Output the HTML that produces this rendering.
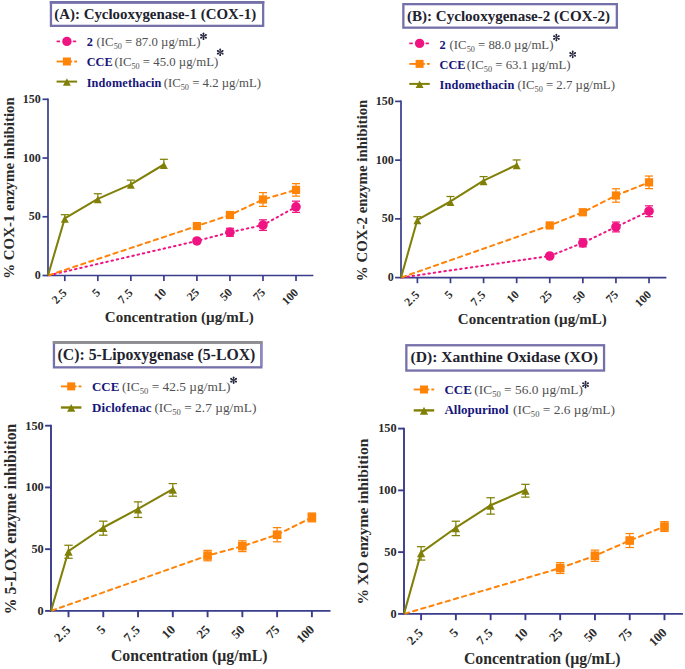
<!DOCTYPE html>
<html><head><meta charset="utf-8"><style>
html,body{margin:0;padding:0;background:#fff;}
body{width:685px;height:669px;overflow:hidden;}
svg{display:block;font-family:"Liberation Serif",serif;}
</style></head><body>
<svg width="685" height="669" viewBox="0 0 685 669">
<rect width="685" height="669" fill="#fff"/>
<rect x="50.95" y="2.15" width="212.2" height="23.7" fill="#fff" stroke="#7470aa" stroke-width="2.3"/>
<rect x="49.8" y="1" width="214.5" height="2.8" fill="#7470aa"/>
<text x="54.3" y="18.8" font-size="14.9" font-weight="bold" fill="#22222e">(A): Cyclooxygenase-1 (COX-1)</text>
<line x1="56.6" y1="41.4" x2="60.1" y2="41.4" stroke="#f01482" stroke-width="1.7"/>
<line x1="72.8" y1="41.4" x2="76.2" y2="41.4" stroke="#f01482" stroke-width="1.7"/>
<circle cx="66.9" cy="41.4" r="4.7" fill="#f01482"/>
<text x="86.7" y="46.3" font-size="12.3" font-weight="bold" fill="#15157a">2</text>
<text x="96.6" y="46.3" font-size="12.8" fill="#505050" xml:space="preserve">(IC<tspan font-size="8.2" dy="2.9">50</tspan><tspan dy="-2.9"> = 87.0 µg/mL)</tspan></text>
<g fill="#22223a"><path d="M203.72 36.3 L204.38 33.4 L202.62 33.4 L203.28 36.3Z"/><circle cx="203.5" cy="33.4" r="0.88"/><path d="M203.61 36.49 L206.45 35.61 L205.57 34.09 L203.39 36.11Z"/><circle cx="206.01" cy="34.85" r="0.88"/><path d="M203.39 36.49 L205.57 38.51 L206.45 36.99 L203.61 36.11Z"/><circle cx="206.01" cy="37.75" r="0.88"/><path d="M203.28 36.3 L202.62 39.2 L204.38 39.2 L203.72 36.3Z"/><circle cx="203.5" cy="39.2" r="0.88"/><path d="M203.39 36.11 L200.55 36.99 L201.43 38.51 L203.61 36.49Z"/><circle cx="200.99" cy="37.75" r="0.88"/><path d="M203.61 36.11 L201.43 34.09 L200.55 35.61 L203.39 36.49Z"/><circle cx="200.99" cy="34.85" r="0.88"/></g>
<line x1="56.6" y1="61.5" x2="72.2" y2="61.5" stroke="#ff8307" stroke-width="1.85"/>
<line x1="74.2" y1="61.5" x2="77.1" y2="61.5" stroke="#ff8307" stroke-width="1.85"/>
<rect x="62.9" y="57.5" width="8" height="8" fill="#ff8307"/>
<text x="86.7" y="66.4" font-size="12.3" font-weight="bold" fill="#15157a">CCE</text>
<text x="114.4" y="66.4" font-size="12.8" fill="#505050" xml:space="preserve">(IC<tspan font-size="8.2" dy="2.9">50</tspan><tspan dy="-2.9"> = 45.0 µg/mL)</tspan></text>
<g fill="#22223a"><path d="M220.42 52.25 L221.08 49.35 L219.32 49.35 L219.98 52.25Z"/><circle cx="220.2" cy="49.35" r="0.88"/><path d="M220.31 52.44 L223.15 51.56 L222.27 50.04 L220.09 52.06Z"/><circle cx="222.71" cy="50.8" r="0.88"/><path d="M220.09 52.44 L222.27 54.46 L223.15 52.94 L220.31 52.06Z"/><circle cx="222.71" cy="53.7" r="0.88"/><path d="M219.98 52.25 L219.32 55.15 L221.08 55.15 L220.42 52.25Z"/><circle cx="220.2" cy="55.15" r="0.88"/><path d="M220.09 52.06 L217.25 52.94 L218.13 54.46 L220.31 52.44Z"/><circle cx="217.69" cy="53.7" r="0.88"/><path d="M220.31 52.06 L218.13 50.04 L217.25 51.56 L220.09 52.44Z"/><circle cx="217.69" cy="50.8" r="0.88"/></g>
<line x1="56.6" y1="81.6" x2="77.1" y2="81.6" stroke="#808008" stroke-width="2.0"/>
<path d="M66.9 78.25 L70.85 85.75 L62.95 85.75Z" fill="#808008"/>
<text x="86.7" y="86.6" font-size="12.3" font-weight="bold" fill="#15157a" letter-spacing="0.15">Indomethacin</text>
<text x="163.7" y="86.6" font-size="12.8" fill="#505050" xml:space="preserve">(IC<tspan font-size="8.2" dy="2.9">50</tspan><tspan dy="-2.9"> = 4.2 µg/mL)</tspan></text>
<g stroke="#3a3c8c" stroke-width="1.7" fill="none">
<path d="M48 98.4 V275.5 H313.4"/>
<line x1="42.5" y1="275.5" x2="48" y2="275.5"/>
<line x1="42.5" y1="216.77" x2="48" y2="216.77"/>
<line x1="42.5" y1="158.03" x2="48" y2="158.03"/>
<line x1="42.5" y1="99.3" x2="48" y2="99.3"/>
<line x1="64.8" y1="275.5" x2="64.8" y2="281.1"/>
<line x1="97.83" y1="275.5" x2="97.83" y2="281.1"/>
<line x1="130.86" y1="275.5" x2="130.86" y2="281.1"/>
<line x1="163.89" y1="275.5" x2="163.89" y2="281.1"/>
<line x1="196.92" y1="275.5" x2="196.92" y2="281.1"/>
<line x1="229.95" y1="275.5" x2="229.95" y2="281.1"/>
<line x1="262.98" y1="275.5" x2="262.98" y2="281.1"/>
<line x1="296.01" y1="275.5" x2="296.01" y2="281.1"/>
</g>
<text transform="translate(40.7 279) scale(1 1.08)" font-size="12" font-weight="bold" fill="#2a2a2a" text-anchor="end">0</text>
<text transform="translate(40.7 220.27) scale(1 1.08)" font-size="12" font-weight="bold" fill="#2a2a2a" text-anchor="end">50</text>
<text transform="translate(40.7 161.53) scale(1 1.08)" font-size="12" font-weight="bold" fill="#2a2a2a" text-anchor="end">100</text>
<text transform="translate(40.7 102.8) scale(1 1.08)" font-size="12" font-weight="bold" fill="#2a2a2a" text-anchor="end">150</text>
<text transform="translate(67.8 293.2) rotate(-45)" font-size="11.8" font-weight="bold" fill="#2a2a2a" text-anchor="end" letter-spacing="0.45">2.5</text>
<text transform="translate(100.83 293.2) rotate(-45)" font-size="11.8" font-weight="bold" fill="#2a2a2a" text-anchor="end">5</text>
<text transform="translate(133.86 293.2) rotate(-45)" font-size="11.8" font-weight="bold" fill="#2a2a2a" text-anchor="end" letter-spacing="0.45">7.5</text>
<text transform="translate(166.89 293.2) rotate(-45)" font-size="11.8" font-weight="bold" fill="#2a2a2a" text-anchor="end">10</text>
<text transform="translate(199.92 293.2) rotate(-45)" font-size="11.8" font-weight="bold" fill="#2a2a2a" text-anchor="end">25</text>
<text transform="translate(232.95 293.2) rotate(-45)" font-size="11.8" font-weight="bold" fill="#2a2a2a" text-anchor="end">50</text>
<text transform="translate(265.98 293.2) rotate(-45)" font-size="11.8" font-weight="bold" fill="#2a2a2a" text-anchor="end">75</text>
<text transform="translate(299.01 293.2) rotate(-45)" font-size="11.8" font-weight="bold" fill="#2a2a2a" text-anchor="end">100</text>
<text x="179.35" y="322.3" font-size="15" font-weight="bold" fill="#2a2a2a" text-anchor="middle">Concentration (µg/mL)</text>
<text transform="translate(13.9 188) rotate(-90)" font-size="14.9" font-weight="bold" fill="#2a2a2a" text-anchor="middle">% COX-1 enzyme inhibition</text>
<path d="M48 275.5 L196.92 240.96 L229.95 232.27 L262.98 225.11 L296.01 206.78" fill="none" stroke="#f01482" stroke-width="2.0" stroke-dasharray="1.5 3.85" stroke-linecap="round" stroke-dashoffset="-1"/>
<g stroke="#f01482"><line x1="196.92" y1="239.46" x2="196.92" y2="242.46" stroke-width="1.2"/><line x1="192.92" y1="239.46" x2="200.92" y2="239.46" stroke-width="1.25"/><line x1="192.92" y1="242.46" x2="200.92" y2="242.46" stroke-width="1.25"/></g>
<g stroke="#f01482"><line x1="229.95" y1="228.27" x2="229.95" y2="236.27" stroke-width="1.2"/><line x1="225.95" y1="228.27" x2="233.95" y2="228.27" stroke-width="1.25"/><line x1="225.95" y1="236.27" x2="233.95" y2="236.27" stroke-width="1.25"/></g>
<g stroke="#f01482"><line x1="262.98" y1="219.81" x2="262.98" y2="230.41" stroke-width="1.2"/><line x1="258.98" y1="219.81" x2="266.98" y2="219.81" stroke-width="1.25"/><line x1="258.98" y1="230.41" x2="266.98" y2="230.41" stroke-width="1.25"/></g>
<g stroke="#f01482"><line x1="296.01" y1="201.18" x2="296.01" y2="212.38" stroke-width="1.2"/><line x1="292.01" y1="201.18" x2="300.01" y2="201.18" stroke-width="1.25"/><line x1="292.01" y1="212.38" x2="300.01" y2="212.38" stroke-width="1.25"/></g>
<circle cx="196.92" cy="240.96" r="4.8" fill="#f01482"/>
<circle cx="229.95" cy="232.27" r="4.8" fill="#f01482"/>
<circle cx="262.98" cy="225.11" r="4.8" fill="#f01482"/>
<circle cx="296.01" cy="206.78" r="4.8" fill="#f01482"/>
<path d="M48 275.5 L196.92 226.05 L229.95 215 L262.98 199.5 L296.01 189.87" fill="none" stroke="#ff8307" stroke-width="2.0" stroke-dasharray="4.3 4.2" stroke-linecap="round" stroke-dashoffset="-1"/>
<g stroke="#ff8307"><line x1="196.92" y1="224.55" x2="196.92" y2="227.55" stroke-width="1.2"/><line x1="192.92" y1="224.55" x2="200.92" y2="224.55" stroke-width="1.25"/><line x1="192.92" y1="227.55" x2="200.92" y2="227.55" stroke-width="1.25"/></g>
<g stroke="#ff8307"><line x1="229.95" y1="212.5" x2="229.95" y2="217.5" stroke-width="1.2"/><line x1="225.95" y1="212.5" x2="233.95" y2="212.5" stroke-width="1.25"/><line x1="225.95" y1="217.5" x2="233.95" y2="217.5" stroke-width="1.25"/></g>
<g stroke="#ff8307"><line x1="262.98" y1="192.6" x2="262.98" y2="206.4" stroke-width="1.2"/><line x1="258.98" y1="192.6" x2="266.98" y2="192.6" stroke-width="1.25"/><line x1="258.98" y1="206.4" x2="266.98" y2="206.4" stroke-width="1.25"/></g>
<g stroke="#ff8307"><line x1="296.01" y1="183.62" x2="296.01" y2="196.12" stroke-width="1.2"/><line x1="292.01" y1="183.62" x2="300.01" y2="183.62" stroke-width="1.25"/><line x1="292.01" y1="196.12" x2="300.01" y2="196.12" stroke-width="1.25"/></g>
<rect x="192.82" y="221.95" width="8.2" height="8.2" fill="#ff8307"/>
<rect x="225.85" y="210.9" width="8.2" height="8.2" fill="#ff8307"/>
<rect x="258.88" y="195.4" width="8.2" height="8.2" fill="#ff8307"/>
<rect x="291.91" y="185.77" width="8.2" height="8.2" fill="#ff8307"/>
<path d="M48 275.5 L64.8 218.3 L97.83 198.92 L130.86 184.35 L163.89 164.5" fill="none" stroke="#808008" stroke-width="2.05" stroke-linejoin="round"/>
<g stroke="#808008"><line x1="64.8" y1="214.7" x2="64.8" y2="219" stroke-width="1.2"/><line x1="60.8" y1="214.7" x2="68.8" y2="214.7" stroke-width="1.25"/></g>
<g stroke="#808008"><line x1="97.83" y1="193.72" x2="97.83" y2="199.62" stroke-width="1.2"/><line x1="93.83" y1="193.72" x2="101.83" y2="193.72" stroke-width="1.25"/></g>
<g stroke="#808008"><line x1="130.86" y1="180.15" x2="130.86" y2="185.05" stroke-width="1.2"/><line x1="126.86" y1="180.15" x2="134.86" y2="180.15" stroke-width="1.25"/></g>
<g stroke="#808008"><line x1="163.89" y1="159.3" x2="163.89" y2="165.2" stroke-width="1.2"/><line x1="159.89" y1="159.3" x2="167.89" y2="159.3" stroke-width="1.25"/></g>
<path d="M64.8 215.25 L68.75 222.75 L60.85 222.75Z" fill="#808008"/>
<path d="M97.83 195.87 L101.78 203.37 L93.88 203.37Z" fill="#808008"/>
<path d="M130.86 181.3 L134.81 188.8 L126.91 188.8Z" fill="#808008"/>
<path d="M163.89 161.45 L167.84 168.95 L159.94 168.95Z" fill="#808008"/>
<rect x="403.35" y="4.15" width="213.5" height="23.5" fill="#fff" stroke="#7470aa" stroke-width="2.3"/>
<text x="407" y="20.8" font-size="15.05" font-weight="bold" fill="#22222e">(B): Cyclooxygenase-2 (COX-2)</text>
<line x1="409.3" y1="43.4" x2="412.8" y2="43.4" stroke="#f01482" stroke-width="1.7"/>
<line x1="425.5" y1="43.4" x2="428.9" y2="43.4" stroke="#f01482" stroke-width="1.7"/>
<circle cx="419.6" cy="43.4" r="4.7" fill="#f01482"/>
<text x="439.5" y="48.6" font-size="12.3" font-weight="bold" fill="#15157a">2</text>
<text x="449.6" y="48.6" font-size="12.8" fill="#505050" xml:space="preserve">(IC<tspan font-size="8.2" dy="2.9">50</tspan><tspan dy="-2.9"> = 88.0 µg/mL)</tspan></text>
<g fill="#22223a"><path d="M556.62 37.5 L557.28 34.6 L555.52 34.6 L556.18 37.5Z"/><circle cx="556.4" cy="34.6" r="0.88"/><path d="M556.51 37.69 L559.35 36.81 L558.47 35.29 L556.29 37.31Z"/><circle cx="558.91" cy="36.05" r="0.88"/><path d="M556.29 37.69 L558.47 39.71 L559.35 38.19 L556.51 37.31Z"/><circle cx="558.91" cy="38.95" r="0.88"/><path d="M556.18 37.5 L555.52 40.4 L557.28 40.4 L556.62 37.5Z"/><circle cx="556.4" cy="40.4" r="0.88"/><path d="M556.29 37.31 L553.45 38.19 L554.33 39.71 L556.51 37.69Z"/><circle cx="553.89" cy="38.95" r="0.88"/><path d="M556.51 37.31 L554.33 35.29 L553.45 36.81 L556.29 37.69Z"/><circle cx="553.89" cy="36.05" r="0.88"/></g>
<line x1="409.3" y1="63.9" x2="424.9" y2="63.9" stroke="#ff8307" stroke-width="1.85"/>
<line x1="426.9" y1="63.9" x2="429.8" y2="63.9" stroke="#ff8307" stroke-width="1.85"/>
<rect x="415.6" y="59.9" width="8" height="8" fill="#ff8307"/>
<text x="439.5" y="68.7" font-size="12.3" font-weight="bold" fill="#15157a">CCE</text>
<text x="466.8" y="68.7" font-size="12.8" fill="#505050" xml:space="preserve">(IC<tspan font-size="8.2" dy="2.9">50</tspan><tspan dy="-2.9"> = 63.1 µg/mL)</tspan></text>
<g fill="#22223a"><path d="M572.92 54.4 L573.58 51.5 L571.82 51.5 L572.48 54.4Z"/><circle cx="572.7" cy="51.5" r="0.88"/><path d="M572.81 54.59 L575.65 53.71 L574.77 52.19 L572.59 54.21Z"/><circle cx="575.21" cy="52.95" r="0.88"/><path d="M572.59 54.59 L574.77 56.61 L575.65 55.09 L572.81 54.21Z"/><circle cx="575.21" cy="55.85" r="0.88"/><path d="M572.48 54.4 L571.82 57.3 L573.58 57.3 L572.92 54.4Z"/><circle cx="572.7" cy="57.3" r="0.88"/><path d="M572.59 54.21 L569.75 55.09 L570.63 56.61 L572.81 54.59Z"/><circle cx="570.19" cy="55.85" r="0.88"/><path d="M572.81 54.21 L570.63 52.19 L569.75 53.71 L572.59 54.59Z"/><circle cx="570.19" cy="52.95" r="0.88"/></g>
<line x1="409.3" y1="83.9" x2="429.8" y2="83.9" stroke="#808008" stroke-width="2.0"/>
<path d="M419.6 80.55 L423.55 88.05 L415.65 88.05Z" fill="#808008"/>
<text x="439.5" y="89.2" font-size="12.3" font-weight="bold" fill="#15157a" letter-spacing="0.15">Indomethacin</text>
<text x="517.5" y="89.2" font-size="12.8" fill="#505050" xml:space="preserve">(IC<tspan font-size="8.2" dy="2.9">50</tspan><tspan dy="-2.9"> = 2.7 µg/mL)</tspan></text>
<g stroke="#3a3c8c" stroke-width="1.7" fill="none">
<path d="M401 100.5 V277.6 H666.4"/>
<line x1="395.1" y1="277.6" x2="401" y2="277.6"/>
<line x1="395.1" y1="218.87" x2="401" y2="218.87"/>
<line x1="395.1" y1="160.13" x2="401" y2="160.13"/>
<line x1="395.1" y1="101.4" x2="401" y2="101.4"/>
<line x1="417.4" y1="277.6" x2="417.4" y2="283.2"/>
<line x1="450.49" y1="277.6" x2="450.49" y2="283.2"/>
<line x1="483.58" y1="277.6" x2="483.58" y2="283.2"/>
<line x1="516.67" y1="277.6" x2="516.67" y2="283.2"/>
<line x1="549.76" y1="277.6" x2="549.76" y2="283.2"/>
<line x1="582.85" y1="277.6" x2="582.85" y2="283.2"/>
<line x1="615.94" y1="277.6" x2="615.94" y2="283.2"/>
<line x1="649.03" y1="277.6" x2="649.03" y2="283.2"/>
</g>
<text transform="translate(393.7 281.2) scale(1 1.08)" font-size="12" font-weight="bold" fill="#2a2a2a" text-anchor="end">0</text>
<text transform="translate(393.7 222.47) scale(1 1.08)" font-size="12" font-weight="bold" fill="#2a2a2a" text-anchor="end">50</text>
<text transform="translate(393.7 163.73) scale(1 1.08)" font-size="12" font-weight="bold" fill="#2a2a2a" text-anchor="end">100</text>
<text transform="translate(393.7 105) scale(1 1.08)" font-size="12" font-weight="bold" fill="#2a2a2a" text-anchor="end">150</text>
<text transform="translate(420.4 295.3) rotate(-45)" font-size="11.8" font-weight="bold" fill="#2a2a2a" text-anchor="end" letter-spacing="0.45">2.5</text>
<text transform="translate(453.49 295.3) rotate(-45)" font-size="11.8" font-weight="bold" fill="#2a2a2a" text-anchor="end">5</text>
<text transform="translate(486.58 295.3) rotate(-45)" font-size="11.8" font-weight="bold" fill="#2a2a2a" text-anchor="end" letter-spacing="0.45">7.5</text>
<text transform="translate(519.67 295.3) rotate(-45)" font-size="11.8" font-weight="bold" fill="#2a2a2a" text-anchor="end">10</text>
<text transform="translate(552.76 295.3) rotate(-45)" font-size="11.8" font-weight="bold" fill="#2a2a2a" text-anchor="end">25</text>
<text transform="translate(585.85 295.3) rotate(-45)" font-size="11.8" font-weight="bold" fill="#2a2a2a" text-anchor="end">50</text>
<text transform="translate(618.94 295.3) rotate(-45)" font-size="11.8" font-weight="bold" fill="#2a2a2a" text-anchor="end">75</text>
<text transform="translate(652.03 295.3) rotate(-45)" font-size="11.8" font-weight="bold" fill="#2a2a2a" text-anchor="end">100</text>
<text x="532.35" y="324.4" font-size="15" font-weight="bold" fill="#2a2a2a" text-anchor="middle">Concentration (µg/mL)</text>
<text transform="translate(366.7 190.4) rotate(-90)" font-size="14.9" font-weight="bold" fill="#2a2a2a" text-anchor="middle">% COX-2 enzyme inhibition</text>
<path d="M401 277.6 L549.76 255.99 L582.85 242.83 L615.94 226.97 L649.03 211.23" fill="none" stroke="#f01482" stroke-width="2.0" stroke-dasharray="1.5 3.85" stroke-linecap="round" stroke-dashoffset="-1"/>
<g stroke="#f01482"><line x1="549.76" y1="254.49" x2="549.76" y2="257.49" stroke-width="1.2"/><line x1="545.76" y1="254.49" x2="553.76" y2="254.49" stroke-width="1.25"/><line x1="545.76" y1="257.49" x2="553.76" y2="257.49" stroke-width="1.25"/></g>
<g stroke="#f01482"><line x1="582.85" y1="238.83" x2="582.85" y2="246.83" stroke-width="1.2"/><line x1="578.85" y1="238.83" x2="586.85" y2="238.83" stroke-width="1.25"/><line x1="578.85" y1="246.83" x2="586.85" y2="246.83" stroke-width="1.25"/></g>
<g stroke="#f01482"><line x1="615.94" y1="222.07" x2="615.94" y2="231.87" stroke-width="1.2"/><line x1="611.94" y1="222.07" x2="619.94" y2="222.07" stroke-width="1.25"/><line x1="611.94" y1="231.87" x2="619.94" y2="231.87" stroke-width="1.25"/></g>
<g stroke="#f01482"><line x1="649.03" y1="205.83" x2="649.03" y2="216.63" stroke-width="1.2"/><line x1="645.03" y1="205.83" x2="653.03" y2="205.83" stroke-width="1.25"/><line x1="645.03" y1="216.63" x2="653.03" y2="216.63" stroke-width="1.25"/></g>
<circle cx="549.76" cy="255.99" r="4.8" fill="#f01482"/>
<circle cx="582.85" cy="242.83" r="4.8" fill="#f01482"/>
<circle cx="615.94" cy="226.97" r="4.8" fill="#f01482"/>
<circle cx="649.03" cy="211.23" r="4.8" fill="#f01482"/>
<path d="M401 277.6 L549.76 225.44 L582.85 212.29 L615.94 195.49 L649.03 182.33" fill="none" stroke="#ff8307" stroke-width="2.0" stroke-dasharray="4.3 4.2" stroke-linecap="round" stroke-dashoffset="-1"/>
<g stroke="#ff8307"><line x1="549.76" y1="223.94" x2="549.76" y2="226.94" stroke-width="1.2"/><line x1="545.76" y1="223.94" x2="553.76" y2="223.94" stroke-width="1.25"/><line x1="545.76" y1="226.94" x2="553.76" y2="226.94" stroke-width="1.25"/></g>
<g stroke="#ff8307"><line x1="582.85" y1="209.29" x2="582.85" y2="215.29" stroke-width="1.2"/><line x1="578.85" y1="209.29" x2="586.85" y2="209.29" stroke-width="1.25"/><line x1="578.85" y1="215.29" x2="586.85" y2="215.29" stroke-width="1.25"/></g>
<g stroke="#ff8307"><line x1="615.94" y1="188.79" x2="615.94" y2="202.19" stroke-width="1.2"/><line x1="611.94" y1="188.79" x2="619.94" y2="188.79" stroke-width="1.25"/><line x1="611.94" y1="202.19" x2="619.94" y2="202.19" stroke-width="1.25"/></g>
<g stroke="#ff8307"><line x1="649.03" y1="176.03" x2="649.03" y2="188.63" stroke-width="1.2"/><line x1="645.03" y1="176.03" x2="653.03" y2="176.03" stroke-width="1.25"/><line x1="645.03" y1="188.63" x2="653.03" y2="188.63" stroke-width="1.25"/></g>
<rect x="545.66" y="221.34" width="8.2" height="8.2" fill="#ff8307"/>
<rect x="578.75" y="208.19" width="8.2" height="8.2" fill="#ff8307"/>
<rect x="611.84" y="191.39" width="8.2" height="8.2" fill="#ff8307"/>
<rect x="644.93" y="178.23" width="8.2" height="8.2" fill="#ff8307"/>
<path d="M401 277.6 L417.4 219.81 L450.49 201.49 L483.58 180.69 L516.67 164.84" fill="none" stroke="#808008" stroke-width="2.05" stroke-linejoin="round"/>
<g stroke="#808008"><line x1="417.4" y1="216.71" x2="417.4" y2="220.51" stroke-width="1.2"/><line x1="413.4" y1="216.71" x2="421.4" y2="216.71" stroke-width="1.25"/></g>
<g stroke="#808008"><line x1="450.49" y1="196.49" x2="450.49" y2="202.19" stroke-width="1.2"/><line x1="446.49" y1="196.49" x2="454.49" y2="196.49" stroke-width="1.25"/></g>
<g stroke="#808008"><line x1="483.58" y1="176.59" x2="483.58" y2="181.39" stroke-width="1.2"/><line x1="479.58" y1="176.59" x2="487.58" y2="176.59" stroke-width="1.25"/></g>
<g stroke="#808008"><line x1="516.67" y1="159.94" x2="516.67" y2="165.54" stroke-width="1.2"/><line x1="512.67" y1="159.94" x2="520.67" y2="159.94" stroke-width="1.25"/></g>
<path d="M417.4 216.76 L421.35 224.26 L413.45 224.26Z" fill="#808008"/>
<path d="M450.49 198.44 L454.44 205.94 L446.54 205.94Z" fill="#808008"/>
<path d="M483.58 177.64 L487.53 185.14 L479.63 185.14Z" fill="#808008"/>
<path d="M516.67 161.79 L520.62 169.29 L512.72 169.29Z" fill="#808008"/>
<rect x="53.95" y="342.25" width="207.4" height="25.1" fill="#fff" stroke="#7470aa" stroke-width="2.3"/>
<rect x="52.8" y="341.1" width="209.7" height="2.8" fill="#8e8e8e"/>
<rect x="260.2" y="343.9" width="2.3" height="22.3" fill="#8c8abf"/>
<text x="57.6" y="359.7" font-size="15.75" font-weight="bold" fill="#22222e">(C): 5-Lipoxygenase (5-LOX)</text>
<line x1="60.9" y1="386.4" x2="76.5" y2="386.4" stroke="#ff8307" stroke-width="1.85"/>
<line x1="78.5" y1="386.4" x2="81.4" y2="386.4" stroke="#ff8307" stroke-width="1.85"/>
<rect x="67.2" y="382.4" width="8" height="8" fill="#ff8307"/>
<text x="92" y="390.8" font-size="12.95" font-weight="bold" fill="#15157a">CCE</text>
<text x="121.9" y="390.8" font-size="13.4" fill="#505050" xml:space="preserve">(IC<tspan font-size="8.6" dy="3.04">50</tspan><tspan dy="-3.04"> = 42.5 µg/mL)</tspan></text>
<g fill="#22223a"><path d="M233.82 380.2 L234.48 377.3 L232.72 377.3 L233.38 380.2Z"/><circle cx="233.6" cy="377.3" r="0.88"/><path d="M233.71 380.39 L236.55 379.51 L235.67 377.99 L233.49 380.01Z"/><circle cx="236.11" cy="378.75" r="0.88"/><path d="M233.49 380.39 L235.67 382.41 L236.55 380.89 L233.71 380.01Z"/><circle cx="236.11" cy="381.65" r="0.88"/><path d="M233.38 380.2 L232.72 383.1 L234.48 383.1 L233.82 380.2Z"/><circle cx="233.6" cy="383.1" r="0.88"/><path d="M233.49 380.01 L230.65 380.89 L231.53 382.41 L233.71 380.39Z"/><circle cx="231.09" cy="381.65" r="0.88"/><path d="M233.71 380.01 L231.53 377.99 L230.65 379.51 L233.49 380.39Z"/><circle cx="231.09" cy="378.75" r="0.88"/></g>
<line x1="60.9" y1="407.5" x2="81.4" y2="407.5" stroke="#808008" stroke-width="2.4"/>
<path d="M71.2 403.96 L75.35 411.84 L67.05 411.84Z" fill="#808008"/>
<text x="92" y="412.2" font-size="12.95" font-weight="bold" fill="#15157a" letter-spacing="0.15">Diclofenac</text>
<text x="154.4" y="412.2" font-size="13.4" fill="#505050" xml:space="preserve">(IC<tspan font-size="8.6" dy="3.04">50</tspan><tspan dy="-3.04"> = 2.7 µg/mL)</tspan></text>
<g stroke="#3a3c8c" stroke-width="1.9" fill="none">
<path d="M51 424.8 V610.9 H330.5"/>
<line x1="45.1" y1="610.9" x2="51" y2="610.9"/>
<line x1="45.1" y1="549.17" x2="51" y2="549.17"/>
<line x1="45.1" y1="487.43" x2="51" y2="487.43"/>
<line x1="45.1" y1="425.7" x2="51" y2="425.7"/>
<line x1="68.5" y1="610.9" x2="68.5" y2="617.2"/>
<line x1="103.27" y1="610.9" x2="103.27" y2="617.2"/>
<line x1="138.04" y1="610.9" x2="138.04" y2="617.2"/>
<line x1="172.81" y1="610.9" x2="172.81" y2="617.2"/>
<line x1="207.58" y1="610.9" x2="207.58" y2="617.2"/>
<line x1="242.35" y1="610.9" x2="242.35" y2="617.2"/>
<line x1="277.12" y1="610.9" x2="277.12" y2="617.2"/>
<line x1="311.89" y1="610.9" x2="311.89" y2="617.2"/>
</g>
<text transform="translate(43.7 614.8) scale(1 1.08)" font-size="12.3" font-weight="bold" fill="#2a2a2a" text-anchor="end">0</text>
<text transform="translate(43.7 553.07) scale(1 1.08)" font-size="12.3" font-weight="bold" fill="#2a2a2a" text-anchor="end">50</text>
<text transform="translate(43.7 491.33) scale(1 1.08)" font-size="12.3" font-weight="bold" fill="#2a2a2a" text-anchor="end">100</text>
<text transform="translate(43.7 429.6) scale(1 1.08)" font-size="12.3" font-weight="bold" fill="#2a2a2a" text-anchor="end">150</text>
<text transform="translate(71.6 630.5) rotate(-45)" font-size="12.8" font-weight="bold" fill="#2a2a2a" text-anchor="end" letter-spacing="0.45">2.5</text>
<text transform="translate(106.37 630.5) rotate(-45)" font-size="12.8" font-weight="bold" fill="#2a2a2a" text-anchor="end">5</text>
<text transform="translate(141.14 630.5) rotate(-45)" font-size="12.8" font-weight="bold" fill="#2a2a2a" text-anchor="end" letter-spacing="0.45">7.5</text>
<text transform="translate(175.91 630.5) rotate(-45)" font-size="12.8" font-weight="bold" fill="#2a2a2a" text-anchor="end">10</text>
<text transform="translate(210.68 630.5) rotate(-45)" font-size="12.8" font-weight="bold" fill="#2a2a2a" text-anchor="end">25</text>
<text transform="translate(245.45 630.5) rotate(-45)" font-size="12.8" font-weight="bold" fill="#2a2a2a" text-anchor="end">50</text>
<text transform="translate(280.22 630.5) rotate(-45)" font-size="12.8" font-weight="bold" fill="#2a2a2a" text-anchor="end">75</text>
<text transform="translate(314.99 630.5) rotate(-45)" font-size="12.8" font-weight="bold" fill="#2a2a2a" text-anchor="end">100</text>
<text x="189.25" y="661" font-size="15.75" font-weight="bold" fill="#2a2a2a" text-anchor="middle">Concentration (µg/mL)</text>
<text transform="translate(15.6 519) rotate(-90)" font-size="15.7" font-weight="bold" fill="#2a2a2a" text-anchor="middle">% 5-LOX enzyme inhibition</text>
<path d="M51 610.9 L207.58 555.59 L242.35 546.2 L277.12 534.72 L311.89 517.44" fill="none" stroke="#ff8307" stroke-width="2.0" stroke-dasharray="4.3 4.2" stroke-linecap="round" stroke-dashoffset="-1"/>
<g stroke="#ff8307"><line x1="207.58" y1="550.39" x2="207.58" y2="560.79" stroke-width="1.2"/><line x1="203.38" y1="550.39" x2="211.78" y2="550.39" stroke-width="1.25"/><line x1="203.38" y1="560.79" x2="211.78" y2="560.79" stroke-width="1.25"/></g>
<g stroke="#ff8307"><line x1="242.35" y1="540.8" x2="242.35" y2="551.6" stroke-width="1.2"/><line x1="238.15" y1="540.8" x2="246.55" y2="540.8" stroke-width="1.25"/><line x1="238.15" y1="551.6" x2="246.55" y2="551.6" stroke-width="1.25"/></g>
<g stroke="#ff8307"><line x1="277.12" y1="527.62" x2="277.12" y2="541.82" stroke-width="1.2"/><line x1="272.92" y1="527.62" x2="281.32" y2="527.62" stroke-width="1.25"/><line x1="272.92" y1="541.82" x2="281.32" y2="541.82" stroke-width="1.25"/></g>
<g stroke="#ff8307"><line x1="311.89" y1="513.04" x2="311.89" y2="521.84" stroke-width="1.2"/><line x1="307.69" y1="513.04" x2="316.09" y2="513.04" stroke-width="1.25"/><line x1="307.69" y1="521.84" x2="316.09" y2="521.84" stroke-width="1.25"/></g>
<rect x="203.28" y="551.28" width="8.61" height="8.61" fill="#ff8307"/>
<rect x="238.05" y="541.9" width="8.61" height="8.61" fill="#ff8307"/>
<rect x="272.81" y="530.42" width="8.61" height="8.61" fill="#ff8307"/>
<rect x="307.58" y="513.13" width="8.61" height="8.61" fill="#ff8307"/>
<path d="M51 610.9 L68.5 551.06 L103.27 527.48 L138.04 508.96 L172.81 489.2" fill="none" stroke="#808008" stroke-width="2.05" stroke-linejoin="round"/>
<g stroke="#808008"><line x1="68.5" y1="545.26" x2="68.5" y2="558.26" stroke-width="1.2"/><line x1="64.3" y1="545.26" x2="72.7" y2="545.26" stroke-width="1.25"/><line x1="64.3" y1="558.26" x2="72.7" y2="558.26" stroke-width="1.25"/></g>
<g stroke="#808008"><line x1="103.27" y1="521.18" x2="103.27" y2="535.18" stroke-width="1.2"/><line x1="99.07" y1="521.18" x2="107.47" y2="521.18" stroke-width="1.25"/><line x1="99.07" y1="535.18" x2="107.47" y2="535.18" stroke-width="1.25"/></g>
<g stroke="#808008"><line x1="138.04" y1="501.86" x2="138.04" y2="517.46" stroke-width="1.2"/><line x1="133.84" y1="501.86" x2="142.24" y2="501.86" stroke-width="1.25"/><line x1="133.84" y1="517.46" x2="142.24" y2="517.46" stroke-width="1.25"/></g>
<g stroke="#808008"><line x1="172.81" y1="483.6" x2="172.81" y2="496.2" stroke-width="1.2"/><line x1="168.61" y1="483.6" x2="177.01" y2="483.6" stroke-width="1.25"/><line x1="168.61" y1="496.2" x2="177.01" y2="496.2" stroke-width="1.25"/></g>
<path d="M68.5 547.82 L72.65 555.7 L64.35 555.7Z" fill="#808008"/>
<path d="M103.27 524.24 L107.42 532.11 L99.12 532.11Z" fill="#808008"/>
<path d="M138.04 505.72 L142.19 513.59 L133.89 513.59Z" fill="#808008"/>
<path d="M172.81 485.97 L176.96 493.84 L168.66 493.84Z" fill="#808008"/>
<rect x="406.35" y="345.25" width="197.7" height="25.3" fill="#fff" stroke="#7470aa" stroke-width="2.3"/>
<text x="410.5" y="362" font-size="15.6" font-weight="bold" fill="#22222e">(D): Xanthine Oxidase (XO)</text>
<line x1="413.7" y1="389.5" x2="429.3" y2="389.5" stroke="#ff8307" stroke-width="1.85"/>
<line x1="431.3" y1="389.5" x2="434.2" y2="389.5" stroke="#ff8307" stroke-width="1.85"/>
<rect x="420" y="385.5" width="8" height="8" fill="#ff8307"/>
<text x="444.5" y="393.8" font-size="12.95" font-weight="bold" fill="#15157a">CCE</text>
<text x="474.3" y="393.8" font-size="13.4" fill="#505050" xml:space="preserve">(IC<tspan font-size="8.6" dy="3.04">50</tspan><tspan dy="-3.04"> = 56.0 µg/mL)</tspan></text>
<g fill="#22223a"><path d="M585.77 384.6 L586.43 381.7 L584.67 381.7 L585.33 384.6Z"/><circle cx="585.55" cy="381.7" r="0.88"/><path d="M585.66 384.79 L588.5 383.91 L587.62 382.39 L585.44 384.41Z"/><circle cx="588.06" cy="383.15" r="0.88"/><path d="M585.44 384.79 L587.62 386.81 L588.5 385.29 L585.66 384.41Z"/><circle cx="588.06" cy="386.05" r="0.88"/><path d="M585.33 384.6 L584.67 387.5 L586.43 387.5 L585.77 384.6Z"/><circle cx="585.55" cy="387.5" r="0.88"/><path d="M585.44 384.41 L582.6 385.29 L583.48 386.81 L585.66 384.79Z"/><circle cx="583.04" cy="386.05" r="0.88"/><path d="M585.66 384.41 L583.48 382.39 L582.6 383.91 L585.44 384.79Z"/><circle cx="583.04" cy="383.15" r="0.88"/></g>
<line x1="413.7" y1="410.4" x2="434.2" y2="410.4" stroke="#808008" stroke-width="2.4"/>
<path d="M424 406.86 L428.15 414.74 L419.85 414.74Z" fill="#808008"/>
<text x="444.5" y="414.2" font-size="12.95" font-weight="bold" fill="#15157a">Allopurinol</text>
<text x="513" y="414.2" font-size="13.4" fill="#505050" xml:space="preserve">(IC<tspan font-size="8.6" dy="3.04">50</tspan><tspan dy="-3.04"> = 2.6 µg/mL)</tspan></text>
<g stroke="#3a3c8c" stroke-width="1.9" fill="none">
<path d="M404 427.7 V613.9 H682.9"/>
<line x1="398.1" y1="613.9" x2="404" y2="613.9"/>
<line x1="398.1" y1="552.13" x2="404" y2="552.13"/>
<line x1="398.1" y1="490.37" x2="404" y2="490.37"/>
<line x1="398.1" y1="428.6" x2="404" y2="428.6"/>
<line x1="421.1" y1="613.9" x2="421.1" y2="620.2"/>
<line x1="455.87" y1="613.9" x2="455.87" y2="620.2"/>
<line x1="490.64" y1="613.9" x2="490.64" y2="620.2"/>
<line x1="525.41" y1="613.9" x2="525.41" y2="620.2"/>
<line x1="560.18" y1="613.9" x2="560.18" y2="620.2"/>
<line x1="594.95" y1="613.9" x2="594.95" y2="620.2"/>
<line x1="629.72" y1="613.9" x2="629.72" y2="620.2"/>
<line x1="664.49" y1="613.9" x2="664.49" y2="620.2"/>
</g>
<text transform="translate(396.6 617.7) scale(1 1.08)" font-size="12.3" font-weight="bold" fill="#2a2a2a" text-anchor="end">0</text>
<text transform="translate(396.6 555.93) scale(1 1.08)" font-size="12.3" font-weight="bold" fill="#2a2a2a" text-anchor="end">50</text>
<text transform="translate(396.6 494.17) scale(1 1.08)" font-size="12.3" font-weight="bold" fill="#2a2a2a" text-anchor="end">100</text>
<text transform="translate(396.6 432.4) scale(1 1.08)" font-size="12.3" font-weight="bold" fill="#2a2a2a" text-anchor="end">150</text>
<text transform="translate(424.2 633.5) rotate(-45)" font-size="12.8" font-weight="bold" fill="#2a2a2a" text-anchor="end" letter-spacing="0.45">2.5</text>
<text transform="translate(458.97 633.5) rotate(-45)" font-size="12.8" font-weight="bold" fill="#2a2a2a" text-anchor="end">5</text>
<text transform="translate(493.74 633.5) rotate(-45)" font-size="12.8" font-weight="bold" fill="#2a2a2a" text-anchor="end" letter-spacing="0.45">7.5</text>
<text transform="translate(528.51 633.5) rotate(-45)" font-size="12.8" font-weight="bold" fill="#2a2a2a" text-anchor="end">10</text>
<text transform="translate(563.28 633.5) rotate(-45)" font-size="12.8" font-weight="bold" fill="#2a2a2a" text-anchor="end">25</text>
<text transform="translate(598.05 633.5) rotate(-45)" font-size="12.8" font-weight="bold" fill="#2a2a2a" text-anchor="end">50</text>
<text transform="translate(632.82 633.5) rotate(-45)" font-size="12.8" font-weight="bold" fill="#2a2a2a" text-anchor="end">75</text>
<text transform="translate(667.59 633.5) rotate(-45)" font-size="12.8" font-weight="bold" fill="#2a2a2a" text-anchor="end">100</text>
<text x="542.2" y="664" font-size="15.75" font-weight="bold" fill="#2a2a2a" text-anchor="middle">Concentration (µg/mL)</text>
<text transform="translate(368 521.6) rotate(-90)" font-size="15.6" font-weight="bold" fill="#2a2a2a" text-anchor="middle">% XO enzyme inhibition</text>
<path d="M404 613.9 L560.18 568.07 L594.95 555.72 L629.72 540.52 L664.49 526.56" fill="none" stroke="#ff8307" stroke-width="2.0" stroke-dasharray="4.3 4.2" stroke-linecap="round" stroke-dashoffset="-1"/>
<g stroke="#ff8307"><line x1="560.18" y1="562.67" x2="560.18" y2="573.47" stroke-width="1.2"/><line x1="555.98" y1="562.67" x2="564.38" y2="562.67" stroke-width="1.25"/><line x1="555.98" y1="573.47" x2="564.38" y2="573.47" stroke-width="1.25"/></g>
<g stroke="#ff8307"><line x1="594.95" y1="550.12" x2="594.95" y2="561.32" stroke-width="1.2"/><line x1="590.75" y1="550.12" x2="599.15" y2="550.12" stroke-width="1.25"/><line x1="590.75" y1="561.32" x2="599.15" y2="561.32" stroke-width="1.25"/></g>
<g stroke="#ff8307"><line x1="629.72" y1="533.52" x2="629.72" y2="547.52" stroke-width="1.2"/><line x1="625.52" y1="533.52" x2="633.92" y2="533.52" stroke-width="1.25"/><line x1="625.52" y1="547.52" x2="633.92" y2="547.52" stroke-width="1.25"/></g>
<g stroke="#ff8307"><line x1="664.49" y1="521.66" x2="664.49" y2="531.46" stroke-width="1.2"/><line x1="660.29" y1="521.66" x2="668.69" y2="521.66" stroke-width="1.25"/><line x1="660.29" y1="531.46" x2="668.69" y2="531.46" stroke-width="1.25"/></g>
<rect x="555.88" y="563.76" width="8.61" height="8.61" fill="#ff8307"/>
<rect x="590.65" y="551.41" width="8.61" height="8.61" fill="#ff8307"/>
<rect x="625.42" y="536.22" width="8.61" height="8.61" fill="#ff8307"/>
<rect x="660.19" y="522.26" width="8.61" height="8.61" fill="#ff8307"/>
<path d="M404 613.9 L421.1 552.67 L455.87 527.71 L490.64 505.23 L525.41 490.04" fill="none" stroke="#808008" stroke-width="2.05" stroke-linejoin="round"/>
<g stroke="#808008"><line x1="421.1" y1="546.67" x2="421.1" y2="560.07" stroke-width="1.2"/><line x1="416.9" y1="546.67" x2="425.3" y2="546.67" stroke-width="1.25"/><line x1="416.9" y1="560.07" x2="425.3" y2="560.07" stroke-width="1.25"/></g>
<g stroke="#808008"><line x1="455.87" y1="521.21" x2="455.87" y2="535.61" stroke-width="1.2"/><line x1="451.67" y1="521.21" x2="460.07" y2="521.21" stroke-width="1.25"/><line x1="451.67" y1="535.61" x2="460.07" y2="535.61" stroke-width="1.25"/></g>
<g stroke="#808008"><line x1="490.64" y1="497.73" x2="490.64" y2="514.13" stroke-width="1.2"/><line x1="486.44" y1="497.73" x2="494.84" y2="497.73" stroke-width="1.25"/><line x1="486.44" y1="514.13" x2="494.84" y2="514.13" stroke-width="1.25"/></g>
<g stroke="#808008"><line x1="525.41" y1="484.34" x2="525.41" y2="497.14" stroke-width="1.2"/><line x1="521.21" y1="484.34" x2="529.61" y2="484.34" stroke-width="1.25"/><line x1="521.21" y1="497.14" x2="529.61" y2="497.14" stroke-width="1.25"/></g>
<path d="M421.1 549.43 L425.25 557.31 L416.95 557.31Z" fill="#808008"/>
<path d="M455.87 524.48 L460.02 532.35 L451.72 532.35Z" fill="#808008"/>
<path d="M490.64 501.99 L494.79 509.87 L486.49 509.87Z" fill="#808008"/>
<path d="M525.41 486.8 L529.56 494.67 L521.26 494.67Z" fill="#808008"/>
</svg>
</body></html>
